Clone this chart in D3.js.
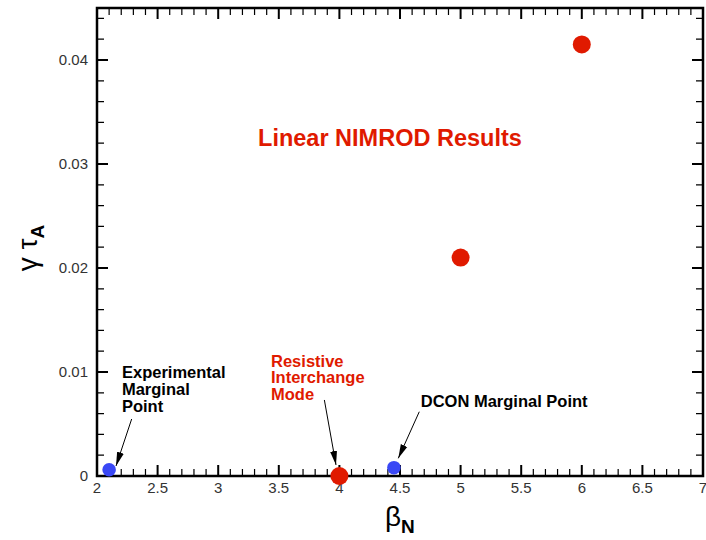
<!DOCTYPE html>
<html>
<head>
<meta charset="utf-8">
<script src="https://cdn.jsdelivr.net/npm/d3@7"></script>
<style>
  html, body { margin: 0; padding: 0; background: #fff; }
  svg { display: block; }
  text { font-family: "Liberation Sans", Arial, Helvetica, sans-serif; }
</style>
</head>
<body>
<svg id="chart" width="706" height="540"></svg>
<script>
// Growth rate vs normalized beta
const nimrodBeta = [4.0, 5.0, 6.0];
const nimrodGamma = [0.0, 0.021, 0.0415];
const marginalBeta = [2.1, 4.45];
const marginalGamma = [0.0006, 0.0008];
const xTicks = [2, 2.5, 3, 3.5, 4, 4.5, 5, 5.5, 6, 6.5, 7];
const yTicks = [0, 0.01, 0.02, 0.03, 0.04];

const annotations = [
  { lines: ["Experimental", "Marginal", "Point"], color: "#000", x: 2.206, y: 0.00942, from: [2.286, 0.00548], to: [2.157, 0.00096] },
  { lines: ["Resistive", "Interchange", "Mode"], color: "#e01a00", x: 3.436, y: 0.01051, from: [3.876, 0.00731], to: [3.972, 0.00106] },
  { lines: ["DCON Marginal Point"], color: "#000", x: 4.671, y: 0.00661, from: [4.659, 0.00618], to: [4.486, 0.0017] }
];

const svg = d3.select("#chart");
const W = 706, H = 540;
const m = { left: 97, right: 3, top: 8, bottom: 64 };
const x = d3.scaleLinear().domain([2, 7]).range([m.left, W - m.right]);
const y = d3.scaleLinear().domain([0, 0.045]).range([H - m.bottom, m.top]);

const xMinor = d3.range(0, 51).map(i => 2 + i * 0.1)
  .filter(v => !xTicks.some(t => Math.abs(t - v) < 1e-9));
const yMinor = d3.range(0, 23).map(i => i * 0.002)
  .filter(v => v <= 0.045 && !yTicks.some(t => Math.abs(t - v) < 1e-9));

const plotL = x(2), plotR = x(7), plotB = y(0), plotT = y(0.045);
const MAJ = 11, MIN = 7;

// frame
svg.append("rect")
  .attr("x", plotL).attr("y", plotT)
  .attr("width", plotR - plotL).attr("height", plotB - plotT)
  .attr("fill", "none").attr("stroke", "#000").attr("stroke-width", 2.5);

// inward ticks on all four sides
function tickPathFor(xs, ys, len) {
  const p = d3.path();
  xs.forEach(d => {
    p.moveTo(x(d), plotB); p.lineTo(x(d), plotB - len);
    p.moveTo(x(d), plotT); p.lineTo(x(d), plotT + len);
  });
  ys.forEach(d => {
    p.moveTo(plotL, y(d)); p.lineTo(plotL + len, y(d));
    p.moveTo(plotR, y(d)); p.lineTo(plotR - len, y(d));
  });
  return p.toString();
}
svg.append("path").attr("d", tickPathFor(xMinor, yMinor, MIN))
  .attr("fill", "none").attr("stroke", "#000").attr("stroke-width", 1.2);
svg.append("path").attr("d", tickPathFor(xTicks, yTicks, MAJ))
  .attr("fill", "none").attr("stroke", "#000").attr("stroke-width", 2);

// tick labels
svg.append("g").selectAll("text").data(xTicks).enter().append("text")
  .attr("x", d => x(d)).attr("y", plotB + 17)
  .attr("text-anchor", "middle").attr("font-size", 15).attr("fill", "#333")
  .text(d => d3.format("")(d));
svg.append("g").selectAll("text").data(yTicks).enter().append("text")
  .attr("x", plotL - 9).attr("y", d => y(d)).attr("dy", "0.36em")
  .attr("text-anchor", "end").attr("font-size", 15).attr("fill", "#333")
  .text(d => d3.format("")(d));

// arrowhead
svg.append("defs").append("marker")
  .attr("id", "ah").attr("viewBox", "0 0 14 8").attr("refX", 14).attr("refY", 4)
  .attr("markerWidth", 14).attr("markerHeight", 8).attr("markerUnits", "userSpaceOnUse")
  .attr("orient", "auto")
  .append("path").attr("d", "M0,0.5 L14,4 L0,7.5 Z").attr("fill", "#000");

annotations.forEach(a => {
  svg.append("line")
    .attr("x1", x(a.from[0])).attr("y1", y(a.from[1]))
    .attr("x2", x(a.to[0])).attr("y2", y(a.to[1]))
    .attr("stroke", "#000").attr("stroke-width", 1)
    .attr("marker-end", "url(#ah)");
  const t = svg.append("text")
    .attr("x", x(a.x)).attr("y", y(a.y))
    .attr("font-size", 16.5).attr("font-weight", "bold").attr("fill", a.color);
  a.lines.forEach((l, i) => t.append("tspan").attr("x", x(a.x)).attr("dy", i ? 16.8 : 0).text(l));
});

// points
svg.selectAll("circle.nim").data(nimrodBeta).enter().append("circle")
  .attr("class", "nim")
  .attr("cx", d => x(d)).attr("cy", (d, i) => y(nimrodGamma[i])).attr("r", 9)
  .attr("fill", "#e01a00");
svg.selectAll("circle.marg").data(marginalBeta).enter().append("circle")
  .attr("class", "marg")
  .attr("cx", d => x(d)).attr("cy", (d, i) => y(marginalGamma[i])).attr("r", 6.8)
  .attr("fill", "#3a48f5");

// title inside plot
svg.append("text")
  .attr("x", x(4.417)).attr("y", y(0.03173)).attr("text-anchor", "middle")
  .attr("font-size", 23.5).attr("font-weight", "bold").attr("fill", "#e01a00")
  .text("Linear NIMROD Results");

// axis titles
const xtl = svg.append("text").attr("x", 385).attr("y", 526)
  .attr("text-anchor", "start").attr("font-size", 28).attr("fill", "#000");
xtl.append("tspan").text("β");
xtl.append("tspan").attr("font-size", 19).attr("font-weight", "bold").attr("dy", 7).text("N");

const ytl = svg.append("text")
  .attr("transform", "translate(37,248) rotate(-90)")
  .attr("text-anchor", "middle").attr("font-size", 28).attr("fill", "#000");
ytl.append("tspan").text("γ τ");
ytl.append("tspan").attr("font-size", 19).attr("font-weight", "bold").attr("dy", 7).text("A");
</script>
</body>
</html>
